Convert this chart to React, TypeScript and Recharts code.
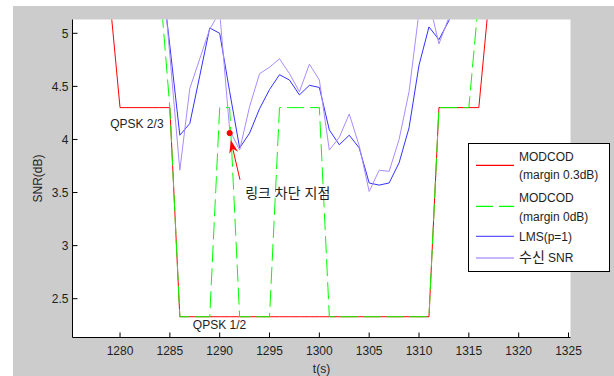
import React from "react";
import { LineChart, Line, XAxis, YAxis, Legend, ReferenceDot, ReferenceLine } from "recharts";

// time axis (s)
const times = [
  1275, 1276, 1277, 1278, 1279, 1280, 1281, 1282, 1283, 1284,
  1285, 1286, 1287, 1288, 1289, 1290, 1291, 1292, 1293, 1294,
  1295, 1296, 1297, 1298, 1299, 1300, 1301, 1302, 1303, 1304,
  1305, 1306, 1307, 1308, 1309, 1310, 1311, 1312, 1313, 1314,
  1315, 1316, 1317, 1318, 1319, 1320, 1321, 1322, 1323, 1324, 1325,
];

// MODCOD threshold, margin 0.3dB
const modcod03 = [
  5.3, 5.3, 5.3, 5.3, 5.3, 4.3, 4.3, 4.3, 4.3, 4.3,
  4.3, 2.33, 2.33, 2.33, 2.33, 2.33, 2.33, 2.33, 2.33, 2.33,
  2.33, 2.33, 2.33, 2.33, 2.33, 2.33, 2.33, 2.33, 2.33, 2.33,
  2.33, 2.33, 2.33, 2.33, 2.33, 2.33, 2.33, 4.3, 4.3, 4.3,
  4.3, 4.3, 5.3, 5.3, 5.3, 5.3, 5.3, 5.3, 5.3, 5.3, 5.3,
];

// MODCOD threshold, margin 0dB
const modcod0 = [
  5.45, 5.45, 5.45, 5.45, 5.45, 5.45, 5.45, 5.45, 5.45, 5.45,
  4.3, 2.33, 2.33, 2.33, 2.33, 4.3, 4.3, 2.33, 2.33, 2.33,
  2.33, 4.3, 4.3, 4.3, 4.3, 4.3, 2.33, 2.33, 2.33, 2.33,
  2.33, 2.33, 2.33, 2.33, 2.33, 2.33, 2.33, 4.3, 4.3, 4.3,
  4.3, 5.34, 5.34, 5.34, 5.34, 5.34, 5.34, 5.34, 5.34, 5.34, 5.34,
];

// LMS prediction (p=1)
const lmsP1 = [
  5.7, 5.7, 5.7, 5.7, 5.7, 5.7, 5.7, 5.7, 5.7, 5.7,
  4.88, 4.04, 4.15, 4.6, 5.05, 5.0, 4.45, 3.92, 4.06, 4.29,
  4.47, 4.61, 4.56, 4.42, 4.51, 4.49, 4.09, 3.95, 4.04, 3.92,
  3.59, 3.57, 3.59, 3.78, 4.11, 4.7, 5.06, 4.94, 5.12, 5.4,
  5.5, 5.5, 5.5, 5.5, 5.5, 5.5, 5.5, 5.5, 5.5, 5.5, 5.5,
];

// received SNR
const rxSnr = [
  5.85, 5.85, 5.85, 5.85, 5.85, 5.85, 5.85, 5.85, 5.85, 5.85,
  4.79, 3.71, 4.48, 4.76, 5.04, 5.2, 4.09, 3.9, 4.31, 4.62,
  4.68, 4.76, 4.62, 4.45, 4.71, 4.56, 3.9, 4.02, 4.24, 3.94,
  3.51, 3.71, 3.7, 4.0, 4.45, 5.2, 5.3, 4.9, 5.15, 5.5,
  5.6, 5.6, 5.6, 5.6, 5.6, 5.6, 5.6, 5.6, 5.6, 5.6, 5.6,
];

const xTicks = [1280, 1285, 1290, 1295, 1300, 1305, 1310, 1315, 1320, 1325];
const yTicks = [2.5, 3, 3.5, 4, 4.5, 5];

const FONT = "'Liberation Sans', Arial, 'Noto Sans CJK KR', sans-serif";
const INK = "#1e1e1e";

const data = times.map((t, i) => ({
  t,
  red: modcod03[i],
  green: modcod0[i],
  lms: lmsP1[i],
  rx: rxSnr[i],
}));

function BottomTick({ x, y, payload }: any) {
  return (
    <g>
      <line x1={x} y1={y} x2={x} y2={y - 5} stroke="#000" />
      <text x={x} y={y + 17} textAnchor="middle" fontSize={12} fontFamily={FONT} fill={INK}>
        {payload.value}
      </text>
    </g>
  );
}

function LeftTick({ x, y, payload }: any) {
  return (
    <g>
      <line x1={x} y1={y} x2={x + 5} y2={y} stroke="#000" />
      <text x={x - 4} y={y + 4.3} textAnchor="end" fontSize={12} fontFamily={FONT} fill={INK}>
        {payload.value}
      </text>
    </g>
  );
}

function TopTick({ x, y }: any) {
  return <line x1={x} y1={y} x2={x} y2={y + 5} stroke="#000" />;
}

function RightTick({ x, y }: any) {
  return <line x1={x} y1={y} x2={x - 5} y2={y} stroke="#000" />;
}

function YTitle({ viewBox }: any) {
  const cx = viewBox.x + 28.7;
  const cy = viewBox.y + viewBox.height / 2;
  return (
    <text
      x={cx}
      y={cy}
      transform={`rotate(-90 ${cx} ${cy})`}
      textAnchor="middle"
      fontSize={12}
      fontFamily={FONT}
      fill={INK}
    >
      SNR(dB)
    </text>
  );
}

function note(text: string, size: number, dy: number) {
  return (p: any) => (
    <text x={p.cx} y={p.cy + dy} textAnchor="middle" fontSize={size} fontFamily={FONT} fill={INK}>
      {text}
    </text>
  );
}

function Arrow(p: any) {
  const { x1, y1, x2, y2 } = p;
  const dx = x2 - x1;
  const dy = y2 - y1;
  const len = Math.sqrt(dx * dx + dy * dy) || 1;
  const ux = dx / len;
  const uy = dy / len;
  const nx = -uy;
  const ny = ux;
  const L = 13;
  const W = 4.5;
  const pts = [
    [x2, y2],
    [x2 - L * ux + W * nx, y2 - L * uy + W * ny],
    [x2 - 0.7 * L * ux, y2 - 0.7 * L * uy],
    [x2 - L * ux - W * nx, y2 - L * uy - W * ny],
  ]
    .map((q) => q.join(","))
    .join(" ");
  return (
    <g>
      <line x1={x1} y1={y1} x2={x2 - 0.7 * L * ux} y2={y2 - 0.7 * L * uy} stroke="#ff0000" />
      <polygon points={pts} fill="#ff0000" />
    </g>
  );
}

function LegendBox() {
  const sample = (y: number, color: string, dash?: string) => (
    <line x1={8} y1={y} x2={46} y2={y} stroke={color} strokeWidth={1.3} strokeDasharray={dash} />
  );
  const label = (y: number, s: React.ReactNode) => (
    <text x={51} y={y} fontSize={12} fontFamily={FONT} fill={INK}>
      {s}
    </text>
  );
  return (
    <svg width={142} height={129} style={{ display: "block" }}>
      <rect x={0.5} y={0.5} width={141} height={128} fill="#fff" stroke="#000" />
      {sample(22.4, "#ff0000")}
      {label(17.7, "MODCOD")}
      {label(36.2, "(margin 0.3dB)")}
      {sample(63.4, "#00ff00", "17 6")}
      {label(59.3, "MODCOD")}
      {label(78.2, "(margin 0dB)")}
      {sample(93.4, "#5a5aff")}
      {label(97.7, "LMS(p=1)")}
      {sample(115, "#b49cff")}
      {label(
        119.3,
        <>
          <tspan fontSize={14}>수신</tspan>
          <tspan> SNR</tspan>
        </>
      )}
    </svg>
  );
}

export default function App() {
  return (
    <div style={{ position: "absolute", left: 0, top: 0, width: 614, height: 376, background: "#fff" }}>
      <div style={{ position: "absolute", left: 13, top: 6, width: 601, height: 370, background: "#cccccc" }}>
        <LineChart
          width={601}
          height={370}
          data={data}
          margin={{ top: 13.5, right: 43.5, bottom: 0, left: 0 }}
          style={{ background: "transparent" }}
        >
          <rect x={59.5} y={13.5} width={498} height={318} fill="#fff" />
          <XAxis
            dataKey="t"
            type="number"
            domain={[1275.23, 1325.2]}
            allowDataOverflow
            ticks={xTicks}
            interval={0}
            height={38.5}
            tickSize={0}
            tickMargin={0}
            tickLine={false}
            tick={<BottomTick />}
            axisLine={{ stroke: "#000" }}
            label={{ value: "t(s)", position: "insideBottom", offset: 3, fill: INK, fontSize: 12, fontFamily: FONT }}
          />
          <XAxis
            xAxisId="top"
            orientation="top"
            dataKey="t"
            type="number"
            domain={[1275.23, 1325.2]}
            allowDataOverflow
            ticks={xTicks}
            interval={0}
            height={0}
            tickSize={0}
            tickMargin={0}
            tickLine={false}
            tick={<TopTick />}
            axisLine={{ stroke: "#000" }}
          />
          <YAxis
            type="number"
            domain={[2.1345, 5.13]}
            allowDataOverflow
            ticks={yTicks}
            interval={0}
            width={59.5}
            tickSize={0}
            tickMargin={0}
            tickLine={false}
            tick={<LeftTick />}
            axisLine={{ stroke: "#000" }}
            label={<YTitle />}
          />
          <YAxis
            yAxisId="right"
            orientation="right"
            type="number"
            domain={[2.1345, 5.13]}
            allowDataOverflow
            ticks={yTicks}
            interval={0}
            width={0}
            tickSize={0}
            tickMargin={0}
            tickLine={false}
            tick={<RightTick />}
            axisLine={{ stroke: "#000" }}
          />
          <Line type="linear" dataKey="red" name="MODCOD (margin 0.3dB)" stroke="#ff0000" strokeWidth={1} dot={false} activeDot={false} isAnimationActive={false} />
          <Line type="linear" dataKey="green" name="MODCOD (margin 0dB)" stroke="#00ff00" strokeWidth={1} strokeDasharray="17 6" dot={false} activeDot={false} isAnimationActive={false} />
          <Line type="linear" dataKey="lms" name="LMS(p=1)" stroke="#3333ff" strokeWidth={1} dot={false} activeDot={false} isAnimationActive={false} />
          <Line type="linear" dataKey="rx" name="수신 SNR" stroke="#a98cff" strokeWidth={1} dot={false} activeDot={false} isAnimationActive={false} />
          <ReferenceDot x={1281.69} y={4.152} r={0} shape={note("QPSK 2/3", 12, 4.3)} />
          <ReferenceDot x={1289.98} y={2.252} r={0} shape={note("QPSK 1/2", 12, 4.3)} />
          <ReferenceDot x={1296.83} y={3.493} r={0} shape={note("링크 차단 지점", 14, 5)} />
          <ReferenceLine
            segment={[
              { x: 1292.04, y: 3.62 },
              { x: 1291.11, y: 3.995 },
            ]}
            shape={<Arrow />}
          />
          <ReferenceDot x={1291} y={4.06} r={2.6} fill="#ff0000" stroke="#ff0000" />
          <Legend
            layout="vertical"
            align="center"
            verticalAlign="middle"
            content={<LegendBox />}
            wrapperStyle={{ left: 455.3, top: 137.3, width: 142, height: 129 }}
          />
        </LineChart>
      </div>
    </div>
  );
}
